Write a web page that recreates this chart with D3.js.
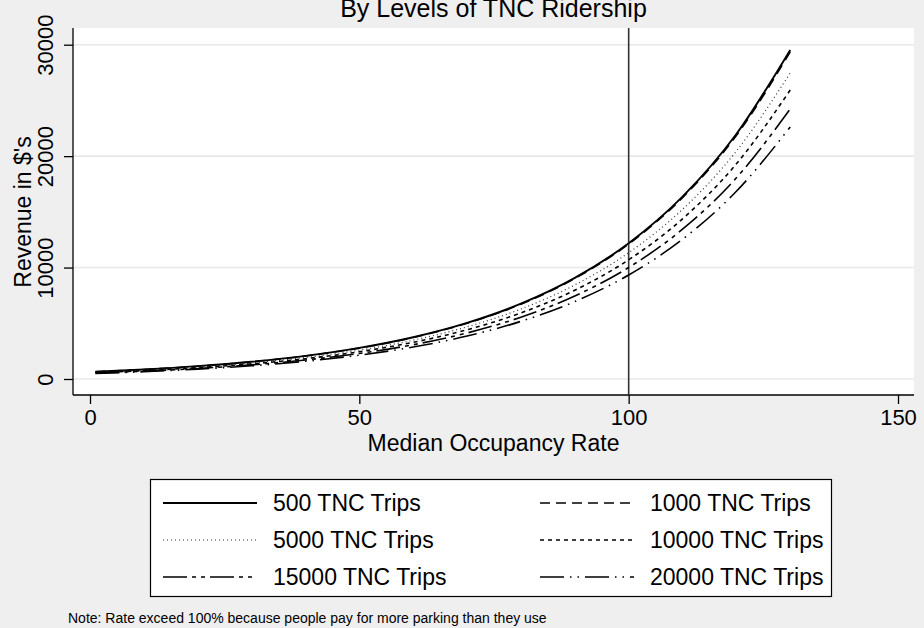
<!DOCTYPE html>
<html>
<head>
<meta charset="utf-8">
<script src="https://cdn.jsdelivr.net/npm/d3@7"></script>
<style>
  body { margin: 0; background: #efefef; }
  svg { display: block; font-family: "Liberation Sans", Arial, sans-serif; }
</style>
</head>
<body>
<div id="chart"></div>
<script>
// occupancy rate values where the curves were read
var occupancy = [1, 10, 20, 30, 40, 50, 60, 70, 80, 90, 100, 110, 120, 130];

// revenue per level of TNC ridership
var trips500   = [657, 857, 1151, 1546, 2076, 2789, 3746, 5031, 6756, 9073, 12186, 16370, 21990, 29530];
var trips1000  = [653, 852, 1144, 1537, 2064, 2772, 3724, 5001, 6716, 9019, 12113, 16272, 21858, 29350];
var trips5000  = [611, 797, 1070, 1438, 1931, 2594, 3484, 4679, 6283, 8438, 11333, 15224, 20451, 27470];
var trips10000 = [577, 752, 1011, 1357, 1823, 2449, 3289, 4417, 5932, 7966, 10699, 14373, 19307, 25930];
var trips15000 = [539, 704, 945, 1269, 1704, 2290, 3075, 4130, 5547, 7449, 10005, 13440, 18054, 24240];
var trips20000 = [503, 656, 882, 1184, 1590, 2136, 2869, 3854, 5175, 6950, 9334, 12539, 16844, 22620];

var seriesNames = ["500 TNC Trips", "1000 TNC Trips", "5000 TNC Trips",
                   "10000 TNC Trips", "15000 TNC Trips", "20000 TNC Trips"];
var seriesValues = [trips500, trips1000, trips5000, trips10000, trips15000, trips20000];

var xTicks = [0, 50, 100, 150];
var yTicks = [0, 10000, 20000, 30000];
var refLine = 100;

var svgWidth = 924, svgHeight = 628;

// plot region
var plot = { left: 73, right: 914, top: 28, bottom: 395 };

// dash patterns per series, Stata style
var dashes = [null, "10,6", "1,3", "4,4", "24,5,4,5,4,5", "24,6,1.5,6,1.5,6"];
var widths = [1.9, 1.6, 1.2, 1.6, 1.6, 1.6];
var strokes = ["#000", "#000", "#333", "#000", "#000", "#000"];

var svg = d3.select("#chart").append("svg")
  .attr("width", svgWidth)
  .attr("height", svgHeight);

svg.append("rect")
  .attr("width", svgWidth)
  .attr("height", svgHeight)
  .attr("fill", "#efefef");

var x = d3.scaleLinear().domain([0, 150]).range([90, 898]);
var y = d3.scaleLinear().domain([0, 30000]).range([379, 44.7]);

svg.append("rect")
  .attr("x", plot.left)
  .attr("y", plot.top)
  .attr("width", plot.right - plot.left)
  .attr("height", plot.bottom - plot.top)
  .attr("fill", "#fff");

// grid lines
svg.append("g")
  .selectAll("line")
  .data(yTicks)
  .enter()
  .append("line")
  .attr("x1", plot.left)
  .attr("x2", plot.right)
  .attr("y1", d => y(d))
  .attr("y2", d => y(d))
  .attr("stroke", "#e8e8e8")
  .attr("stroke-width", 1.6);

// y axis
var leftAxis = d3.axisLeft(y).tickValues(yTicks).tickFormat(d3.format("d")).tickSize(9);
var gy = svg.append("g")
  .attr("transform", `translate(${plot.left},0)`)
  .call(leftAxis);
gy.select(".domain").attr("d", `M0,${plot.top}V${plot.bottom}`).attr("stroke-width", 1.3);
gy.selectAll(".tick line").attr("stroke-width", 1.3);
gy.selectAll(".tick text")
  .attr("transform", "rotate(-90)")
  .attr("x", 0)
  .attr("y", -28)
  .attr("dy", "0.35em")
  .attr("text-anchor", "middle")
  .style("font-size", "22px")
  .attr("fill", "#000");

// x axis
var bottomAxis = d3.axisBottom(x).tickValues(xTicks).tickSize(9).tickPadding(5);
var gx = svg.append("g")
  .attr("transform", `translate(0,${plot.bottom})`)
  .call(bottomAxis);
gx.select(".domain").attr("d", `M${plot.left},0H${plot.right}`).attr("stroke-width", 1.3);
gx.selectAll(".tick line").attr("stroke-width", 1.3);
gx.selectAll(".tick text")
  .style("font-size", "22px")
  .attr("fill", "#000");

// reference line at 100
svg.append("line")
  .attr("x1", x(refLine))
  .attr("x2", x(refLine))
  .attr("y1", plot.top)
  .attr("y2", plot.bottom)
  .attr("stroke", "#333")
  .attr("stroke-width", 1.6);

// curves
var line = d3.line()
  .x(d => x(d[0]))
  .y(d => y(d[1]))
  .curve(d3.curveMonotoneX);

seriesValues.forEach(function(vals, i) {
  var pts = occupancy.map((o, j) => [o, vals[j]]);
  svg.append("path")
    .datum(pts)
    .attr("d", line)
    .attr("fill", "none")
    .attr("stroke", strokes[i])
    .attr("stroke-width", widths[i])
    .attr("stroke-dasharray", dashes[i]);
});

// titles
svg.append("text")
  .attr("x", (plot.left + plot.right) / 2)
  .attr("y", 17)
  .attr("text-anchor", "middle")
  .style("font-size", "25px")
  .text("By Levels of TNC Ridership");

svg.append("text")
  .attr("transform", `translate(31,212) rotate(-90)`)
  .attr("text-anchor", "middle")
  .style("font-size", "23px")
  .text("Revenue in $'s");

svg.append("text")
  .attr("x", (plot.left + plot.right) / 2)
  .attr("y", 451)
  .attr("text-anchor", "middle")
  .style("font-size", "23px")
  .text("Median Occupancy Rate");

// legend
var legend = svg.append("g");
legend.append("rect")
  .attr("x", 150.5)
  .attr("y", 479.5)
  .attr("width", 681)
  .attr("height", 117)
  .attr("fill", "#fff")
  .attr("stroke", "#000")
  .attr("stroke-width", 1.2);

var colX = [163, 540];
var rowY = [503, 540, 577];

seriesNames.forEach(function(name, i) {
  var cx = colX[i % 2];
  var cy = rowY[Math.floor(i / 2)];
  legend.append("line")
    .attr("x1", cx)
    .attr("x2", cx + 94)
    .attr("y1", cy)
    .attr("y2", cy)
    .attr("stroke", strokes[i])
    .attr("stroke-width", widths[i])
    .attr("stroke-dasharray", dashes[i]);
  legend.append("text")
    .attr("x", cx + 110)
    .attr("y", cy)
    .attr("dy", "0.36em")
    .style("font-size", "23px")
    .text(name);
});

svg.append("text")
  .attr("x", 68)
  .attr("y", 623)
  .style("font-size", "14px")
  .text("Note: Rate exceed 100% because people pay for more parking than they use");
</script>
</body>
</html>
